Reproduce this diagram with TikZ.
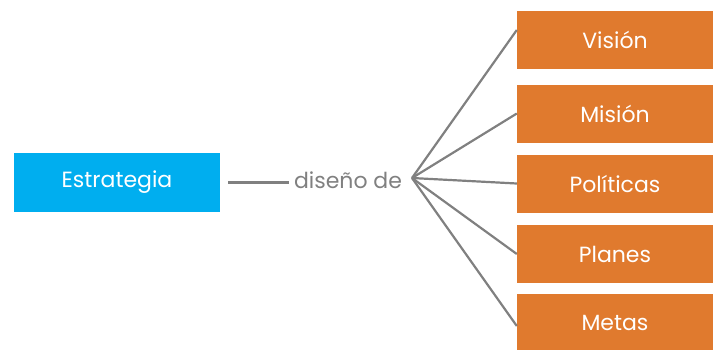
\documentclass[tikz,border=0pt]{standalone}
\usepackage{fontspec}
\setmainfont{Poppins}
\usepackage{tikz}
\definecolor{cajaazul}{HTML}{00AEEF}
\definecolor{cajanaranja}{HTML}{E07A2E}
\definecolor{lineagris}{HTML}{808080}

\begin{document}
\begin{tikzpicture}[x=1pt,y=-1pt,
  azul/.style={rectangle,fill=cajaazul,text=white,minimum width=206pt,minimum height=59pt,font=\fontsize{22}{26}\selectfont},
  naranja/.style={rectangle,fill=cajanaranja,text=white,minimum width=196pt,minimum height=58pt,font=\fontsize{22}{26}\selectfont},
  enlace/.style={draw=lineagris,line width=2.2pt}]
\useasboundingbox (0,0) rectangle (714,349);
\node at (117,182.5) [azul] (Estrategia) {Estrategia};
\node at (348,180) [inner sep=3pt,text=lineagris,font=\fontsize{22}{26}\selectfont] (Diseno) {diseño de};
\coordinate (Hub) at (412,178);
\node at (615,40) [naranja] (Vision) {Visión};
\node at (615,113.5) [naranja] (Mision) {Misión};
\node at (615,183.5) [naranja] (Politicas) {Políticas};
\node at (615,254) [naranja] (Planes) {Planes};
\node at (615,323) [naranja] (Metas) {Metas};
\draw [enlace,shorten <=8pt,shorten >=2pt] (Estrategia.east) -- (Estrategia.east -| Diseno.west);
\draw [enlace] (Hub) -- ([yshift=10pt]Vision.west);
\draw [enlace] (Hub) -- (Mision.west);
\draw [enlace] (Hub) -- (Politicas.west);
\draw [enlace] (Hub) -- (Planes.west);
\draw [enlace] (Hub) -- ([yshift=-3pt]Metas.west);
\end{tikzpicture}
\end{document}
